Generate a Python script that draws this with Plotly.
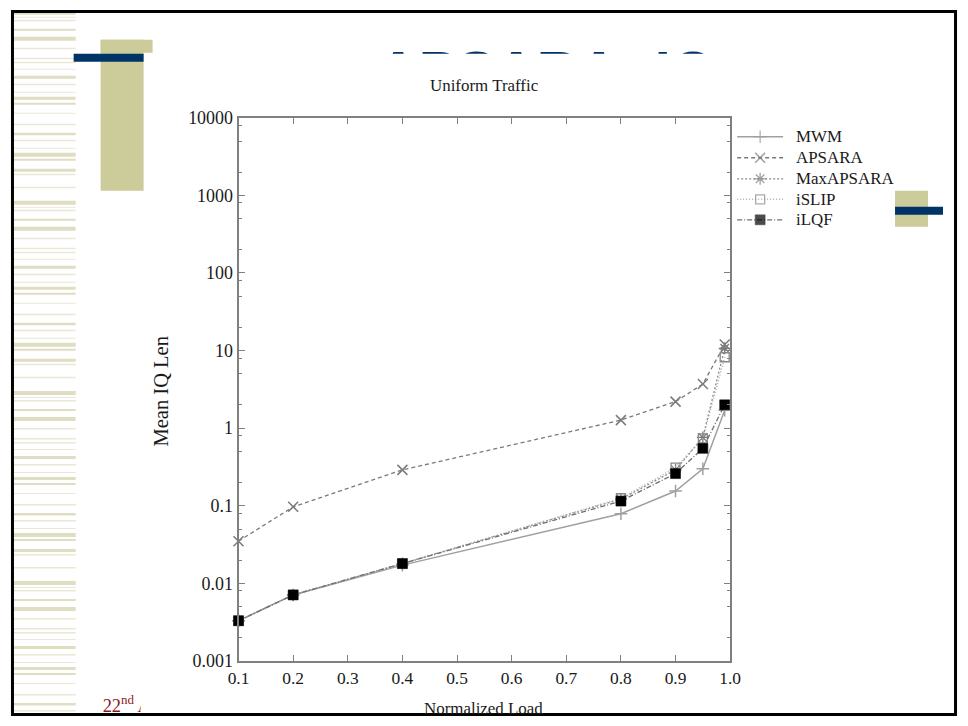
import plotly.graph_objects as go

# ---------------- data ----------------
load = [0.1, 0.2, 0.4, 0.8, 0.9, 0.95, 0.99]
mwm = [0.0033, 0.0071, 0.0172, 0.079, 0.155, 0.30, 1.7]
apsara = [0.035, 0.097, 0.29, 1.27, 2.2, 3.7, 12.0]
maxapsara = [0.0033, 0.0071, 0.018, 0.122, 0.29, 0.76, 10.7]
islip = [0.0033, 0.0071, 0.018, 0.125, 0.31, 0.74, 8.2]
ilqf = [0.0033, 0.0071, 0.018, 0.115, 0.26, 0.55, 2.0]

series_names = ["MWM", "APSARA", "MaxAPSARA", "iSLIP", "iLQF"]

x_tickvals = [0.1, 0.2, 0.3, 0.4, 0.5, 0.6, 0.7, 0.8, 0.9, 1.0]
x_ticktext = ["0.1", "0.2", "0.3", "0.4", "0.5", "0.6", "0.7", "0.8", "0.9", "1.0"]
y_tickvals = [0.001, 0.01, 0.1, 1, 10, 100, 1000, 10000]
y_ticktext = ["0.001", "0.01", "0.1", "1", "10", "100", "1000", "10000"]

chart_title = "Uniform Traffic"
x_title = "Normalized Load"
y_title = "Mean IQ Len"
slide_title = "APSARA: IQ"
footer_text = "22<sup>nd</sup> April 2008"

W, H = 968, 726
SERIF = "Liberation Serif, Times New Roman, serif"
GRAY = "#808080"
TXT = "#1a1a1a"

# The photographed page is framed and scaled slightly; layout positions below are
# given in target-picture pixels and converted to figure pixels here.
OX, OY, SX, SY = 10.3, 10.3, 0.978, 0.972
FS = 1.025


def fx(p):
    return (p - OX) / SX


def fy(p):
    return (p - OY) / SY


def PX(p):
    return min(max(fx(p) / W, 0), 1)


def PY(p):
    return min(max(1 - fy(p) / H, 0), 1)


def f(s):
    return s * FS


fig = go.Figure()

# ---- slide title (mostly hidden behind pasted chart image) ----
fig.add_trace(go.Scatter(
    x=[377], y=[-77.8], mode="text", text=[slide_title],
    textposition="middle right", cliponaxis=True, showlegend=False, hoverinfo="skip",
    textfont=dict(family="Liberation Sans, Arial, sans-serif", size=f(56), color="#003366", weight="bold"),
    xaxis="x", yaxis="y"))

# ---- footer (cut by chart image) ----
fig.add_trace(go.Scatter(
    x=[102], y=[-707], mode="text", text=[footer_text],
    textposition="middle right", cliponaxis=True, showlegend=False, hoverinfo="skip",
    textfont=dict(family=SERIF, size=f(18), color="#8B1A1A"),
    xaxis="x2", yaxis="y2"))

# ---- chart series ----
styles = {
    "MWM": (dict(color="#a0a0a0", width=1.5, dash="solid"),
            dict(symbol="cross-thin", size=9, color="#a0a0a0", line=dict(width=1.5, color="#a0a0a0"))),
    "APSARA": (dict(color="#7a7a7a", width=1.3, dash="4px,3px"),
               dict(symbol="x-thin", size=10, color="#7a7a7a", line=dict(width=1.5, color="#7a7a7a"))),
    "MaxAPSARA": (dict(color="#8a8a8a", width=1.3, dash="2px,2px"),
                  dict(symbol="asterisk", size=10, color="#7a7a7a", line=dict(width=1.3, color="#7a7a7a"))),
    "iSLIP": (dict(color="#b0b0b0", width=1.5, dash="1px,2px"),
              dict(symbol="square-open", size=9, color="#888888", line=dict(width=1.3, color="#888888"))),
    "iLQF": (dict(color="#707070", width=1.3, dash="5px,2px,1px,2px"),
             dict(symbol="square", size=10, color="black", line=dict(width=0.5, color="black"))),
}
series_vals = [mwm, apsara, maxapsara, islip, ilqf]
for name, vals in zip(series_names, series_vals):
    line, marker = styles[name]
    fig.add_trace(go.Scatter(
        x=load, y=vals, name=name, mode="lines+markers", line=line, marker=marker,
        cliponaxis=False, showlegend=False, xaxis="x3", yaxis="y3"))

# ---- custom legend (sample line + marker) ----
legend_rows = [137, 158, 179, 199.5, 220]
annotations = []
for name, yc in zip(series_names, legend_rows):
    line, marker = styles[name]
    m = dict(marker)
    m["size"] = [0, marker["size"], 0]
    fig.add_trace(go.Scatter(
        x=[737, 760, 783], y=[-yc] * 3, mode="lines+markers", line=line, marker=m,
        cliponaxis=False, showlegend=False, hoverinfo="skip", xaxis="x4", yaxis="y4"))
    annotations.append(dict(text=name, x=PX(794), y=PY(yc), xref="paper", yref="paper",
                            showarrow=False, xanchor="left", yanchor="middle",
                            font=dict(family=SERIF, size=f(16.5), color=TXT)))

# ---------------- decorations ----------------
def rect(x0, x1, y0, y1, color, layer="below"):
    return dict(type="rect", xref="paper", yref="paper", layer=layer,
                x0=PX(x0), x1=PX(x1), y0=PY(y1), y1=PY(y0),
                fillcolor=color, line=dict(width=0))


shapes = []
stripe_tile = [(11, 4), (17, 1), (20, 1.5), (29, 2), (37, 4), (48, 1.5), (58, 1.5), (62, 1.5),
               (69, 1), (76, 3), (84, 1.5), (92, 1), (97, 3), (103, 2), (113, 1), (124, 1.5),
               (133, 2.5), (140, 1.5), (148, 1), (153, 4), (159, 2), (169, 3), (174, 1.5), (187, 1.5)]
for rep in range(4):
    for y0, h in stripe_tile:
        yy = y0 + rep * 190
        if yy + h > 715:
            continue
        shapes.append(rect(10, 75, yy, yy + h, "#dfddc2" if h >= 2 else "#e9e8d6"))
shapes += [
    rect(100, 143, 40, 191, "#CCCB9A"),
    rect(100, 152, 40, 53, "#CCCB9A"),
    rect(73, 143, 54, 62, "#003366"),
    rect(895, 928, 191, 227, "#CCCB9A"),
    rect(895, 943, 207, 215, "#003366"),
    dict(type="rect", xref="paper", yref="paper", layer="above",
         x0=1.5 / W, x1=1 - 1.5 / W, y0=1.5 / H, y1=1 - 1.5 / H,
         line=dict(color="black", width=3)),
]

annotations += [
    dict(text=chart_title, x=PX(484), y=PY(86), xref="paper", yref="paper", showarrow=False,
         xanchor="center", yanchor="middle", font=dict(family=SERIF, size=f(16.5), color=TXT)),
    dict(text=x_title, x=PX(483), y=PY(708), xref="paper", yref="paper", showarrow=False,
         xanchor="center", yanchor="middle", font=dict(family=SERIF, size=f(16.5), color=TXT)),
    dict(text=y_title, x=PX(160), y=PY(392), xref="paper", yref="paper", showarrow=False,
         textangle=-90, xanchor="center", yanchor="middle",
         font=dict(family=SERIF, size=f(20), color=TXT)),
]

minor_vals = [m * 10 ** k for k in range(-3, 4) for m in (2, 5, 8)]

hidden = dict(visible=False, fixedrange=True, showgrid=False, zeroline=False)

p_left, p_right = OX, OX + SX * W
p_top, p_bottom = OY, OY + SY * H

fig.update_layout(
    width=W, height=H, margin=dict(l=0, r=0, t=0, b=0),
    paper_bgcolor="white", plot_bgcolor="rgba(0,0,0,0)",
    showlegend=False,
    # title clip region (above the pasted chart image)
    xaxis=dict(domain=[0, 1], range=[p_left, p_right], anchor="y", **hidden),
    yaxis=dict(domain=[PY(54), 1], range=[-54, -p_top], anchor="x", **hidden),
    # footer clip region (left of the pasted chart image)
    xaxis2=dict(domain=[0, PX(140)], range=[p_left, 140], anchor="y2", **hidden),
    yaxis2=dict(domain=[0, PY(680)], range=[-p_bottom, -680], anchor="x2", **hidden),
    # the chart
    xaxis3=dict(domain=[PX(238), PX(730)], range=[0.1, 1.0], anchor="y3",
                tickmode="array", tickvals=x_tickvals, ticktext=x_ticktext,
                showline=True, linecolor=GRAY, linewidth=2, mirror="ticks",
                ticks="inside", ticklen=6, tickwidth=1.2, tickcolor=GRAY,
                showgrid=False, zeroline=False,
                tickfont=dict(family=SERIF, size=f(17), color=TXT)),
    yaxis3=dict(domain=[PY(661), PY(118)], type="log", range=[-3, 4], anchor="x3",
                tickmode="array", tickvals=y_tickvals, ticktext=y_ticktext,
                showline=True, linecolor=GRAY, linewidth=2, mirror="ticks",
                ticks="inside", ticklen=6, tickwidth=1.2, tickcolor=GRAY,
                showgrid=False, zeroline=False,
                minor=dict(tickmode="array", tickvals=minor_vals, ticks="inside", ticklen=3,
                           tickwidth=1, tickcolor=GRAY, showgrid=False),
                tickfont=dict(family=SERIF, size=f(17.5), color=TXT)),
    # legend region
    xaxis4=dict(domain=[PX(730), PX(900)], range=[730, 900], anchor="y4", **hidden),
    yaxis4=dict(domain=[PY(240), PY(120)], range=[-240, -120], anchor="x4", **hidden),
    shapes=shapes,
    annotations=annotations,
)

fig.write_html(
    "out.html",
    config={"displayModeBar": False},
    post_script=(
        "document.documentElement.style.margin='0';document.documentElement.style.padding='0';"
        "document.body.style.margin='0';document.body.style.padding='0';"
        "document.body.style.overflow='hidden';document.documentElement.style.overflow='hidden';"
    ),
)
